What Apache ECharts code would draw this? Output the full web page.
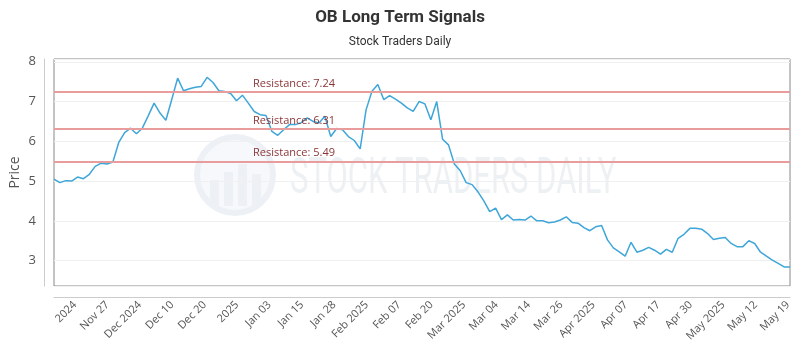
<!DOCTYPE html>
<html>
<head>
<meta charset="utf-8">
<script src="https://cdn.jsdelivr.net/npm/echarts@6/dist/echarts.min.js"></script>
<style>html,body{margin:0;padding:0;background:#fff}#chart{width:800px;height:350px}</style>
</head>
<body>
<div id="chart"></div>
<script>
const tickLabels = ['2024','Nov 27','Dec 2024','Dec 10','Dec 20','2025','Jan 03','Jan 15','Jan 28','Feb 2025','Feb 07','Feb 20','Mar 2025','Mar 04','Mar 14','Mar 26','Apr 2025','Apr 07','Apr 17','Apr 30','May 2025','May 12','May 19'];
const prices = [
5.05,4.96,5.01,5.00,5.10,5.06,5.17,5.37,5.45,5.43,
5.48,5.97,6.22,6.33,6.19,6.33,6.64,6.96,6.71,6.53,
7.05,7.59,7.27,7.32,7.36,7.38,7.61,7.48,7.27,7.25,
7.20,7.02,7.16,6.96,6.75,6.67,6.65,
6.25,6.15,6.29,6.42,6.42,6.47,6.59,6.50,6.46,6.63,
6.12,6.32,6.29,6.12,6.02,5.81,6.79,7.26,7.43,7.05,
7.15,7.06,6.96,6.84,6.75,7.00,6.94,6.54,7.00,6.05,
5.91,5.43,5.26,4.96,4.91,4.73,4.50,4.23,4.32,4.03,
4.15,4.02,4.03,4.02,4.12,4.00,4.00,3.95,3.97,4.02,
4.10,3.96,3.94,3.83,3.75,3.85,3.88,3.52,3.32,3.22,
3.11,3.46,3.21,3.26,3.33,3.26,3.16,3.28,3.21,3.56,
3.66,3.81,3.81,3.79,3.68,3.53,3.56,3.58,3.43,3.35,
3.35,3.50,3.43,3.21,3.11,3.01,2.93,2.84,2.84
];
const resistance = [7.24, 6.31, 5.49];
const categories = prices.map((_, i) => String(i));

const chart = echarts.init(document.getElementById('chart'));
chart.setOption({
  animation: false,
  backgroundColor: '#fff',
  title: {
    text: 'OB Long Term Signals',
    subtext: 'Stock Traders Daily',
    left: 'center',
    top: 4,
    itemGap: 10,
    textStyle: {fontFamily: 'Roboto', fontSize: 17, fontWeight: 'bold', color: '#333'},
    subtextStyle: {fontFamily: 'Roboto', fontSize: 12, color: '#333'}
  },
  grid: {left: 54, right: 10, top: 59, bottom: 64, show: true, borderColor: '#888', borderWidth: 1, containLabel: false, outerBoundsMode: 'none'},
  graphic: [
    {type: 'circle', shape: {cx: 235, cy: 175, r: 38}, style: {fill: 'rgba(240,244,248,0.6)', stroke: '#edf1f5', lineWidth: 6}, z: 0, silent: true},
    {type: 'rect', shape: {x: 210, y: 180, width: 9, height: 26}, style: {fill: '#edf1f5'}, z: 0, silent: true},
    {type: 'rect', shape: {x: 224, y: 172, width: 9, height: 34}, style: {fill: '#edf1f5'}, z: 0, silent: true},
    {type: 'rect', shape: {x: 238, y: 164, width: 9, height: 42}, style: {fill: '#edf1f5'}, z: 0, silent: true},
    {type: 'rect', shape: {x: 252, y: 174, width: 9, height: 32}, style: {fill: '#edf1f5'}, z: 0, silent: true},
    {type: 'text', left: 290, top: 155, scaleX: 0.62, style: {text: 'STOCK TRADERS DAILY', font: '50px Roboto', fill: '#eef1f4'}, z: 0, silent: true}
  ],
  xAxis: [
    {type: 'category', data: categories, boundaryGap: false, show: false},
    {type: 'value', position: 'bottom', min: -0.648, max: 22.06, splitNumber: 22, offset: 11,
     axisLine: {show: true, onZero: false, lineStyle: {color: '#ccc'}},
     axisTick: {show: false}, splitLine: {show: false},
     axisLabel: {rotate: 45, margin: 6, fontFamily: 'Open Sans', fontSize: 11, color: '#555', showMinLabel: false, showMaxLabel: false,
       formatter: v => (Math.abs(v - Math.round(v)) < 1e-6 && tickLabels[Math.round(v)] !== undefined) ? tickLabels[Math.round(v)] : ''}}
  ],
  yAxis: {
    type: 'value', min: 2.36, max: 8.07, splitNumber: 6, offset: 10,
    name: 'Price', nameLocation: 'middle', nameGap: 22, nameMoveOverlap: false,
    nameTextStyle: {fontFamily: 'Open Sans', fontSize: 14, color: '#555'},
    axisLine: {show: true, onZero: false, lineStyle: {color: '#ccc'}},
    axisTick: {show: false},
    splitLine: {show: true, lineStyle: {color: '#f0f0f0'}},
    axisLabel: {showMinLabel: false, showMaxLabel: false, margin: 8, fontFamily: 'Open Sans', fontSize: 13, color: '#555'}
  },
  series: [{
    type: 'line', xAxisIndex: 0, data: prices, showSymbol: false, symbol: 'none',
    lineStyle: {color: '#3ea6d8', width: 1.5}, z: 3,
    markLine: {
      silent: true, symbol: 'none',
      lineStyle: {color: '#e89c9c', width: 2, type: 'solid'},
      label: {show: true, position: 'insideStartTop', distance: [199, 3], formatter: p => 'Resistance: ' + p.value, fontFamily: 'Open Sans', fontSize: 11, color: '#8b3535'},
      data: resistance.map(v => ({yAxis: v}))
    }
  }]
});
</script>
</body>
</html>
